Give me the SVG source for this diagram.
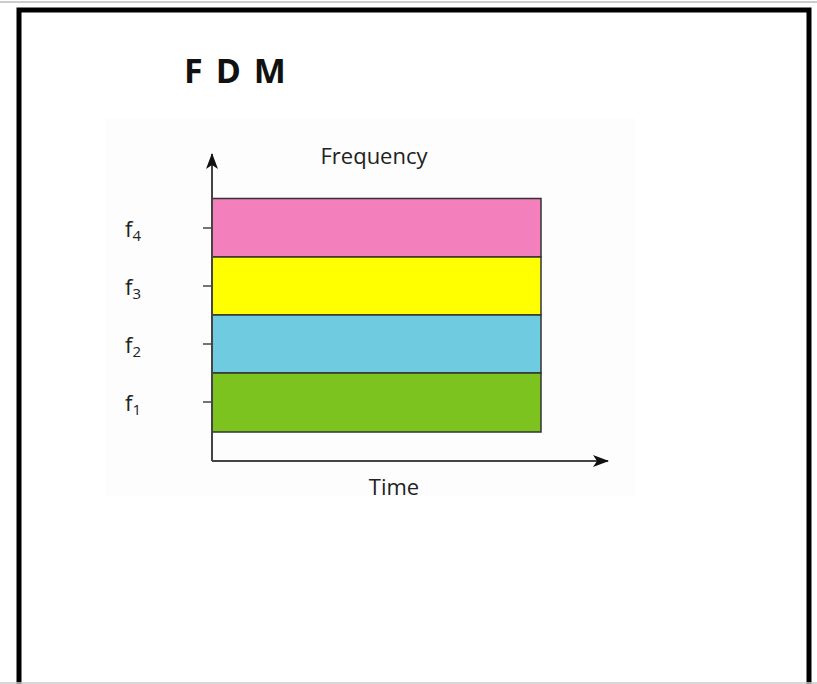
<svg xmlns="http://www.w3.org/2000/svg" width="817" height="684" viewBox="0 0 817 684">
<defs>
<style>
.lbl{font-family:"Open Sans","Noto Sans","Liberation Sans",sans-serif;fill:#222;}
.band{stroke:#333;stroke-width:1.5;}
.axis{stroke:#444;stroke-width:2;fill:none;}
.tick{stroke:#444;stroke-width:1.5;}
</style>
<marker id="arr" viewBox="0 0 16 12" refX="15" refY="6" markerWidth="16" markerHeight="12" markerUnits="userSpaceOnUse" orient="auto">
<path d="M0,0 L16,6 L0,12 L4,6 Z" fill="#111"/>
</marker>
</defs>
<rect x="0" y="0" width="817" height="684" fill="#ffffff"/>
<line x1="0" y1="2" x2="817" y2="2" stroke="#bbb" stroke-width="1.5"/>
<path d="M19,684 V10 H809 V684" fill="none" stroke="#000" stroke-width="5"/>
<line x1="0" y1="683" x2="817" y2="683" stroke="#ccc" stroke-width="1.5"/>
<rect x="105" y="118" width="530" height="378" fill="#fdfdfd"/>
<text class="lbl" x="184" y="83" font-size="34" font-weight="bold" letter-spacing="13" style="fill:#111">FDM</text>
<g id="f4"><rect class="band" x="212" y="198.5" width="329" height="58.5" fill="#f47fbd"/></g>
<g id="f3"><rect class="band" x="212" y="257" width="329" height="58" fill="#ffff00"/></g>
<g id="f2"><rect class="band" x="212" y="315" width="329" height="58" fill="#6fcbdf"/></g>
<g id="f1"><rect class="band" x="212" y="373" width="329" height="59" fill="#7dc31f"/></g>
<g id="connectors">
<line class="axis" x1="212" y1="461" x2="212" y2="154" marker-end="url(#arr)"/>
<line class="axis" x1="212" y1="461" x2="608" y2="461" marker-end="url(#arr)"/>
<line class="tick" x1="203" y1="228" x2="212" y2="228"/>
<line class="tick" x1="203" y1="286" x2="212" y2="286"/>
<line class="tick" x1="203" y1="344" x2="212" y2="344"/>
<line class="tick" x1="203" y1="402" x2="212" y2="402"/>
</g>
<text class="lbl" x="374" y="164" font-size="22" text-anchor="middle">Frequency</text>
<text class="lbl" x="394" y="495" font-size="22" text-anchor="middle">Time</text>
<text class="lbl" x="125" y="237" font-size="22">f<tspan font-size="15" dy="4">4</tspan></text>
<text class="lbl" x="125" y="295" font-size="22">f<tspan font-size="15" dy="4">3</tspan></text>
<text class="lbl" x="125" y="353" font-size="22">f<tspan font-size="15" dy="4">2</tspan></text>
<text class="lbl" x="125" y="411" font-size="22">f<tspan font-size="15" dy="4">1</tspan></text>
</svg>
